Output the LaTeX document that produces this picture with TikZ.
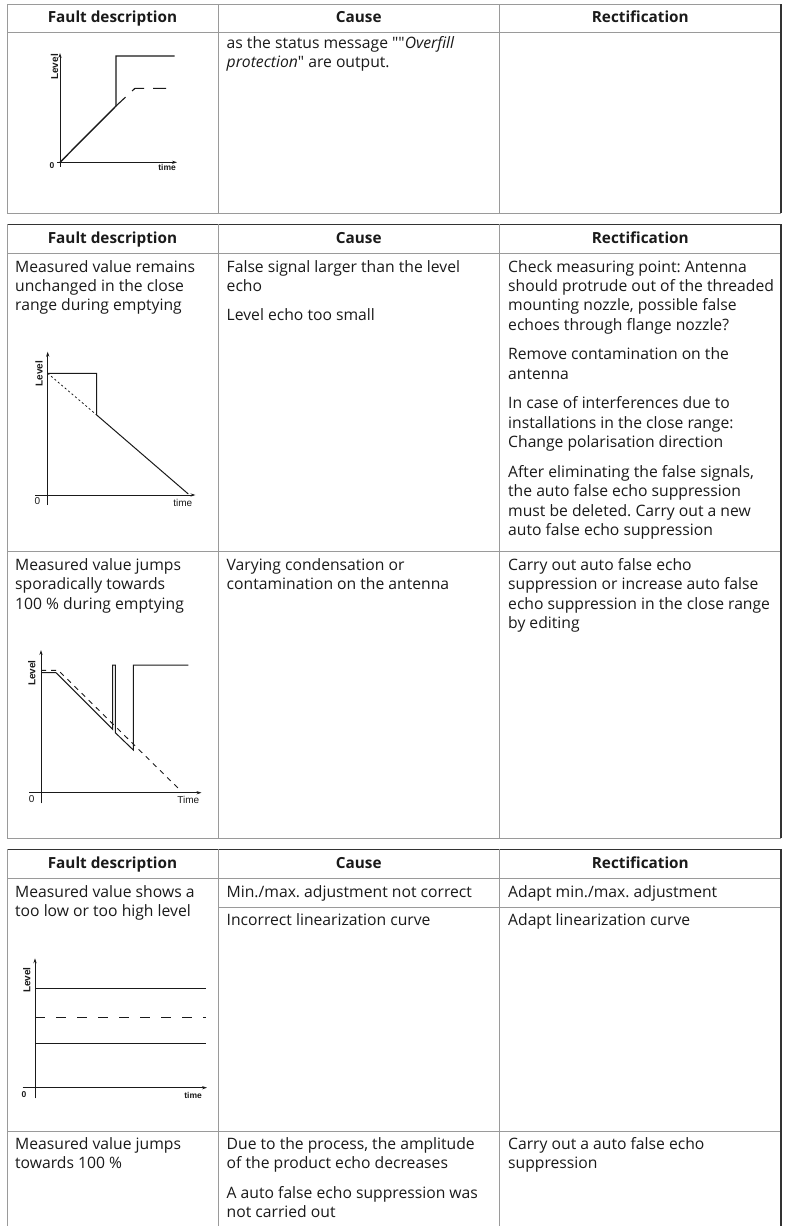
\documentclass[tikz,border=0pt]{standalone}
\usepackage{fontspec}
\setmainfont{Open Sans}[Ligatures=TeXOff]
\newfontfamily\chartfont{Liberation Sans}
\usetikzlibrary{arrows.meta}
\frenchspacing
\definecolor{gridgrey}{HTML}{9A9A9A}
\definecolor{darkrule}{HTML}{333333}
\definecolor{inkc}{HTML}{1A1A1A}
\newcommand\bodyfnt{\fontsize{15.7}{19.4}\selectfont\frenchspacing}
\newcommand\mlines[1]{\begin{tabular}[t]{@{}l@{}}#1\end{tabular}}
\tikzset{
  gline/.style={draw=gridgrey, line width=1pt},
  dline/.style={draw=darkrule, line width=1.2pt},
  txt/.style={anchor=base west, inner sep=0pt, text=inkc, font=\bodyfnt},
  hdr/.style={anchor=base, inner sep=0pt, text=inkc, font=\fontsize{15.3}{19.4}\selectfont\bfseries},
  axis/.style={draw=inkc, line width=0.9pt, -{Stealth[length=5pt,width=3.2pt]}},
  curve/.style={draw=inkc, line width=1pt},
  lab/.style={inner sep=0pt, text=inkc, font=\chartfont\fontsize{10}{11}\selectfont},
  blab/.style={inner sep=0pt, text=inkc, font=\chartfont\bfseries\fontsize{8.5}{10}\selectfont},
  llab/.style={inner sep=0pt, text=inkc, rotate=90, font=\chartfont\bfseries\fontsize{10}{11}\selectfont},
}
\begin{document}
\begin{tikzpicture}[x=1pt,y=-1pt]
\useasboundingbox[fill=white] (0,0) rectangle (786,1226);

% ---------------- Table 1 ----------------
\draw[gline] (7,4) -- (781,4);
\draw[gline] (7,32) -- (781,32);
\draw[gline] (7,213) -- (781,213);
\draw[gline] (7,4) -- (7,213);
\draw[gline] (218,4) -- (218,213);
\draw[gline] (499.5,4) -- (499.5,213);
\draw[dline] (781,4) -- (781,213);
\node[hdr] (h1a) at (112.5,23) {Fault description};
\node[hdr] (h1b) at (358.8,23) {Cause};
\node[hdr] (h1c) at (640.3,23) {Rectification};
\node[txt] (t1c) at (226.5,48.5) {\mlines{as the status message ""\textit{Overfill}\\\textit{protection}" are output.}};

% chart 1
\draw[axis] (60,166.7) -- (60,53);
\draw[axis] (57,162.3) -- (177,162.3);
\draw[curve, line width=1.4pt] (60,162.3) -- (116,106) -- (116,56) -- (174.7,56);
\draw[curve, line width=1.1pt, dash pattern=on 13pt off 9pt] (116,106) -- (135,88.3) -- (175,88.3);
\node[blab] (c1z) at (52,165.5) {0};
\node[blab, anchor=east] (c1t) at (176,167) {time};
\node[llab] (c1l) at (54.5,67) {Level};

% ---------------- Table 2 ----------------
\draw[dline] (7,224.3) -- (781,224.3);
\draw[gline] (7,253) -- (781,253);
\draw[gline] (7,551.7) -- (781,551.7);
\draw[gline] (7,838) -- (781,838);
\draw[gline] (7,224.3) -- (7,838);
\draw[gline] (218,224.3) -- (218,838);
\draw[gline] (499.5,224.3) -- (499.5,838);
\draw[dline] (781,224.3) -- (781,838);
\node[hdr] (h2a) at (112.5,243.5) {Fault description};
\node[hdr] (h2b) at (358.8,243.5) {Cause};
\node[hdr] (h2c) at (640.3,243.5) {Rectification};

\node[txt] (t2a) at (15,272) {\mlines{Measured value remains\\unchanged in the close\\range during emptying}};
\node[txt] (t2b1) at (226.5,272) {\mlines{False signal larger than the level\\echo}};
\node[txt] (t2b2) at (226.5,320.5) {Level echo too small};
\node[txt] (t2c1) at (508,272) {\mlines{Check measuring point: Antenna\\should protrude out of the threaded\\mounting nozzle, possible false\\echoes through flange nozzle?}};
\node[txt] (t2c2) at (508,359.7) {\mlines{Remove contamination on the\\antenna}};
\node[txt] (t2c3) at (508,408.6) {\mlines{In case of interferences due to\\installations in the close range:\\Change polarisation direction}};
\node[txt] (t2c4) at (508,477.2) {\mlines{After eliminating the false signals,\\the auto false echo suppression\\must be deleted. Carry out a new\\auto false echo suppression}};

% chart 2
\draw[axis] (47.7,505) -- (47.7,351.7);
\draw[axis] (35,495) -- (195.5,495);
\draw[curve] (47.7,373.3) -- (96.7,373.3) -- (96.7,415) -- (188.3,494);
\draw[curve, line width=0.8pt, dash pattern=on 2pt off 2.5pt] (47.7,373.3) -- (96.7,415);
\node[lab] (c2z) at (37.5,501.5) {0};
\node[lab, anchor=east] (c2t) at (192.5,502.5) {time};
\node[llab] (c2l) at (39,373.5) {Level};

\node[txt] (t3a) at (15,570.5) {\mlines{Measured value jumps\\sporadically towards\\100 \% during emptying}};
\node[txt] (t3b) at (226.5,570.5) {\mlines{Varying condensation or\\contamination on the antenna}};
\node[txt] (t3c) at (508,570.5) {\mlines{Carry out auto false echo\\suppression or increase auto false\\echo suppression in the close range\\by editing}};

% chart 3
\draw[axis] (41,803.3) -- (41,650);
\draw[axis] (29.3,792.7) -- (201.5,792.7);
\draw[curve] (41,672.7) -- (56,672.7) -- (112.7,729.3) -- (112.7,665) -- (115.3,665) -- (115.3,732.7) -- (133.3,750) -- (133.3,665) -- (188.3,665);
\draw[curve, line width=0.9pt, dash pattern=on 5pt off 5pt] (41,670.3) -- (58.3,670.3) -- (180,790);
\node[lab] (c3z) at (31.7,799.3) {0};
\node[lab, anchor=east] (c3t) at (199.5,800) {Time};
\node[llab] (c3l) at (31.7,673) {Level};

% ---------------- Table 3 ----------------
\draw[dline] (7,849.3) -- (781,849.3);
\draw[gline] (7,878.3) -- (781,878.3);
\draw[gline] (218,907.3) -- (781,907.3);
\draw[gline] (7,1131) -- (781,1131);
\draw[gline] (7,849.3) -- (7,1226);
\draw[gline] (218,849.3) -- (218,1226);
\draw[gline] (499.5,849.3) -- (499.5,1226);
\draw[dline] (781,849.3) -- (781,1226);
\node[hdr] (h3a) at (112.5,868.5) {Fault description};
\node[hdr] (h3b) at (358.8,868.5) {Cause};
\node[hdr] (h3c) at (640.3,868.5) {Rectification};

\node[txt] (t4a) at (15,897.3) {\mlines{Measured value shows a\\too low or too high level}};
\node[txt] (t4b1) at (226.5,897.3) {Min./max. adjustment not correct};
\node[txt] (t4c1) at (508,897.3) {Adapt min./max. adjustment};
\node[txt] (t4b2) at (226.5,925) {Incorrect linearization curve};
\node[txt] (t4c2) at (508,925) {Adapt linearization curve};

% chart 4
\draw[axis] (35,1098.3) -- (35,958.3);
\draw[axis] (22.7,1087.7) -- (207,1087.7);
\draw[curve] (35,988.3) -- (206,988.3);
\draw[curve, dash pattern=on 10pt off 11pt] (35,1017.3) -- (206,1017.3);
\draw[curve] (35,1043.3) -- (206,1043.3);
\node[blab] (c4z) at (24,1094.3) {0};
\node[blab, anchor=east] (c4t) at (202,1095.7) {time};
\node[llab] (c4l) at (26.7,980) {Level};

\node[txt] (t5a) at (15,1149.5) {\mlines{Measured value jumps\\towards 100 \%}};
\node[txt] (t5b1) at (226.5,1149.5) {\mlines{Due to the process, the amplitude\\of the product echo decreases}};
\node[txt] (t5b2) at (226.5,1198.4) {\mlines{A auto false echo suppression was\\not carried out}};
\node[txt] (t5c) at (508,1149.5) {\mlines{Carry out a auto false echo\\suppression}};
\end{tikzpicture}
\end{document}
